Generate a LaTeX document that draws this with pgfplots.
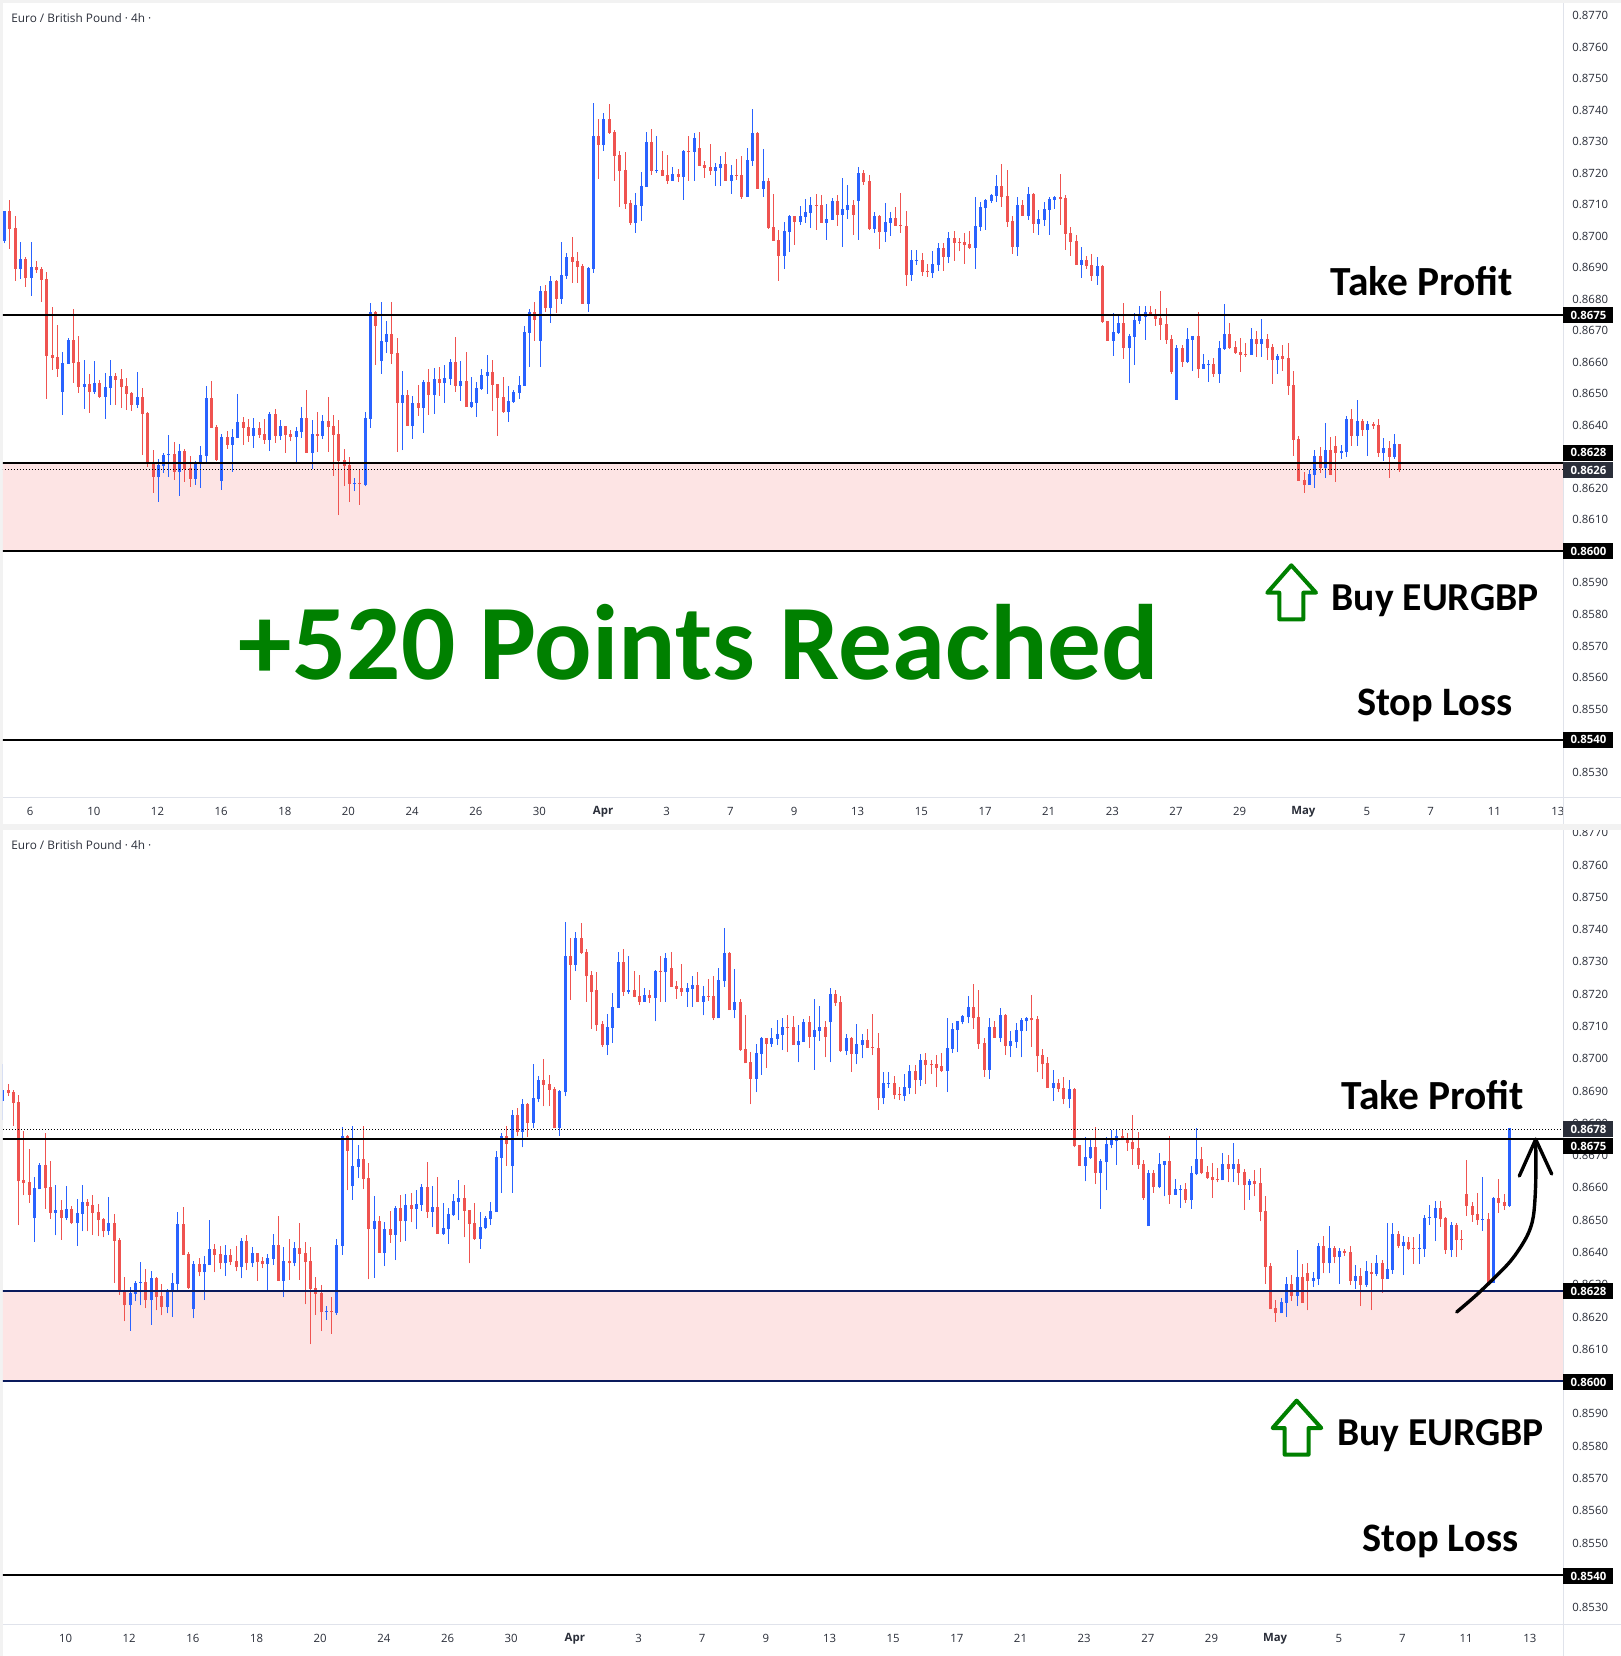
\documentclass[border=0pt]{standalone}
\usepackage{pgfplots}
\usepackage{pgfplotstable}
\usepackage{fontspec}
\pgfplotsset{compat=1.18}
\setmainfont{Open Sans}
\newfontfamily\calib{Carlito}
\definecolor{cup}{HTML}{2962FF}
\definecolor{cdn}{HTML}{EF5350}
\definecolor{zone}{HTML}{FDE4E4}
\definecolor{navy}{HTML}{0A1A5C}
\definecolor{sep}{HTML}{E0E3EB}
\definecolor{txt}{HTML}{2A2E39}
\definecolor{tag2}{HTML}{2A2E39}
\definecolor{gr}{HTML}{008000}
% columns: index, high, body top, body bottom, low (price x 10000)
\pgfplotstableread{
i h t b l
0 8708.0 8708.0 8698.4 8697.6
3 8698.1 8692.7 8689.6 8686.4
5 8698.1 8690.2 8686.7 8681.0
11 8663.2 8659.7 8650.5 8643.2
12 8667.7 8667.0 8659.4 8659.4
15 8660.7 8653.0 8652.1 8645.1
17 8660.3 8653.4 8650.5 8649.9
19 8656.5 8652.1 8648.9 8641.9
20 8660.7 8655.6 8651.8 8646.4
25 8656.9 8648.9 8646.4 8645.4
29 8629.2 8627.3 8623.5 8615.6
30 8631.1 8630.5 8627.0 8624.8
31 8636.9 8630.8 8630.5 8623.5
33 8634.0 8631.8 8625.1 8617.5
36 8628.6 8628.3 8622.9 8621.0
37 8633.4 8630.5 8627.7 8620.0
38 8652.4 8648.6 8630.2 8628.3
41 8637.2 8636.2 8622.3 8619.4
43 8638.8 8636.2 8633.7 8625.1
44 8649.9 8641.0 8635.9 8635.9
47 8642.3 8639.1 8636.5 8632.7
50 8644.2 8643.5 8635.3 8631.8
52 8641.6 8639.7 8636.5 8635.3
55 8639.4 8638.1 8636.2 8628.0
56 8645.7 8642.2 8637.8 8635.9
58 8641.6 8637.1 8631.1 8625.9
60 8643.2 8641.3 8636.5 8635.5
66 8623.2 8621.6 8621.3 8619.0
68 8644.1 8642.2 8621.0 8620.6
69 8678.7 8675.9 8641.9 8639.1
71 8679.0 8666.7 8660.3 8656.2
72 8673.0 8668.9 8666.4 8662.9
75 8657.2 8649.5 8647.0 8632.0
77 8649.2 8647.0 8639.7 8635.6
79 8654.3 8653.7 8645.4 8637.5
81 8658.1 8654.6 8649.5 8643.5
83 8659.1 8654.9 8653.3 8647.0
84 8661.0 8660.0 8654.6 8652.7
86 8660.3 8654.0 8652.4 8647.6
88 8655.3 8647.3 8645.7 8645.4
89 8653.7 8651.8 8647.0 8642.6
90 8657.8 8655.9 8651.4 8651.1
91 8662.2 8656.8 8655.6 8649.9
95 8652.4 8647.6 8644.1 8641.0
96 8651.1 8650.5 8647.3 8647.0
97 8655.6 8652.7 8650.2 8648.3
98 8671.4 8669.5 8652.4 8652.4
99 8676.8 8675.9 8669.2 8658.4
101 8684.1 8682.5 8666.7 8658.4
103 8687.3 8685.7 8677.2 8672.4
105 8698.1 8687.6 8680.0 8678.4
106 8694.6 8693.3 8687.3 8686.4
110 8690.2 8689.9 8678.4 8675.9
111 8742.2 8731.8 8689.5 8688.3
113 8739.0 8737.1 8728.9 8727.0
119 8713.7 8709.8 8704.1 8701.0
120 8720.3 8715.9 8709.5 8704.8
121 8733.0 8729.8 8715.6 8715.6
123 8731.7 8721.0 8720.6 8720.0
126 8721.9 8719.7 8717.5 8717.5
128 8727.3 8727.0 8718.7 8711.4
130 8732.7 8731.1 8726.7 8717.5
134 8723.2 8721.9 8720.6 8715.9
135 8725.4 8722.8 8721.6 8715.9
137 8722.5 8719.4 8717.5 8713.3
140 8727.9 8724.1 8712.4 8712.4
141 8740.3 8732.7 8723.8 8722.2
143 8727.6 8717.5 8714.9 8712.4
147 8704.5 8701.6 8693.7 8689.5
148 8706.7 8706.4 8701.3 8694.9
150 8709.5 8706.4 8704.5 8703.5
151 8711.8 8707.6 8706.0 8704.1
152 8712.4 8709.8 8707.3 8702.5
155 8710.2 8705.4 8704.1 8698.7
156 8712.1 8711.1 8705.1 8705.1
158 8718.4 8708.6 8706.7 8696.5
159 8716.2 8709.8 8708.3 8705.4
161 8721.9 8720.0 8711.1 8698.7
164 8707.6 8706.4 8702.2 8701.0
166 8710.5 8704.5 8701.3 8698.1
167 8707.6 8705.7 8704.1 8700.0
171 8695.6 8692.4 8687.6 8685.7
172 8695.6 8692.4 8692.1 8690.8
175 8695.2 8691.1 8688.3 8686.7
176 8697.8 8696.2 8690.8 8688.9
178 8701.3 8699.4 8693.3 8691.4
183 8712.4 8703.2 8696.2 8689.5
184 8710.8 8709.2 8702.9 8701.6
185 8711.7 8711.4 8708.9 8701.9
186 8713.3 8713.0 8711.1 8710.5
187 8719.4 8715.9 8712.7 8710.8
191 8712.4 8709.8 8696.5 8693.7
193 8715.6 8713.3 8706.4 8705.1
195 8708.3 8705.4 8703.8 8700.3
196 8710.8 8708.6 8705.1 8703.2
197 8712.4 8711.7 8708.3 8700.3
198 8712.7 8712.4 8711.4 8708.6
203 8696.5 8692.4 8690.8 8686.7
206 8693.3 8690.5 8687.3 8684.5
209 8675.6 8669.5 8666.7 8661.9
210 8675.2 8672.4 8669.2 8668.9
212 8668.9 8668.3 8664.5 8653.3
213 8675.6 8673.3 8667.9 8659.1
214 8677.8 8674.6 8673.0 8672.1
215 8677.8 8675.9 8674.3 8667.0
221 8665.4 8664.5 8648.0 8648.0
223 8670.8 8667.3 8660.0 8659.7
224 8668.3 8668.3 8667.0 8657.2
226 8662.6 8659.4 8657.8 8657.8
227 8660.7 8659.4 8659.1 8653.7
229 8666.7 8664.5 8656.2 8653.4
230 8678.4 8668.9 8664.1 8663.8
235 8670.8 8667.3 8662.2 8662.2
237 8673.7 8667.3 8665.7 8661.6
240 8662.6 8661.9 8660.7 8656.2
246 8625.7 8624.5 8621.0 8621.0
247 8632.1 8630.2 8624.2 8620.0
249 8640.7 8632.1 8626.4 8623.2
252 8633.7 8631.8 8631.1 8629.2
253 8642.9 8641.9 8631.5 8629.9
255 8648.0 8641.3 8636.5 8633.4
257 8641.3 8640.3 8638.4 8630.2
260 8635.9 8632.7 8631.1 8628.6
262 8637.2 8634.0 8629.9 8629.2
}\upA
\pgfplotstableread{
i h t b l
1 8711.5 8708.0 8702.2 8695.9
2 8706.4 8702.6 8689.6 8685.7
4 8693.4 8692.7 8686.7 8683.8
6 8692.1 8690.2 8689.2 8688.3
7 8690.2 8689.6 8686.1 8679.1
8 8688.6 8686.4 8661.9 8648.3
9 8677.5 8662.3 8661.3 8657.5
10 8671.8 8661.6 8657.8 8655.3
13 8676.9 8667.0 8659.7 8653.4
14 8668.3 8660.0 8652.1 8650.2
16 8656.2 8653.0 8650.5 8643.8
18 8654.3 8653.4 8648.9 8648.6
21 8656.5 8655.6 8654.3 8646.4
22 8657.8 8654.6 8652.1 8645.4
23 8654.9 8652.4 8649.9 8644.8
24 8650.5 8650.2 8646.4 8644.5
26 8651.8 8648.9 8643.5 8630.5
27 8644.2 8643.8 8627.9 8626.7
28 8632.1 8628.3 8623.5 8618.5
32 8634.6 8630.8 8625.1 8622.6
34 8632.4 8631.8 8626.1 8621.9
35 8630.2 8626.4 8622.9 8620.4
39 8654.0 8648.6 8639.1 8639.1
40 8640.0 8639.4 8628.9 8628.6
42 8638.1 8636.2 8633.7 8632.4
45 8642.6 8641.0 8639.1 8633.7
46 8641.9 8639.4 8636.5 8634.6
48 8641.0 8639.1 8636.9 8635.9
49 8641.9 8637.2 8635.3 8634.0
51 8645.1 8643.5 8636.5 8634.3
53 8639.7 8639.7 8636.9 8631.1
54 8638.4 8637.2 8636.2 8634.9
57 8651.1 8642.2 8631.1 8631.1
59 8644.1 8637.1 8636.5 8631.4
61 8648.9 8641.3 8639.4 8631.4
62 8643.2 8639.7 8636.8 8623.8
63 8641.6 8637.1 8628.6 8611.4
64 8632.4 8628.9 8627.0 8620.6
65 8629.8 8627.3 8621.3 8615.5
67 8625.9 8621.6 8621.3 8614.6
70 8676.2 8675.9 8671.4 8659.1
73 8679.0 8668.9 8662.6 8659.4
74 8667.6 8662.9 8647.0 8631.5
76 8651.1 8649.5 8639.7 8639.7
78 8652.7 8647.0 8645.4 8642.9
80 8657.8 8653.7 8649.5 8643.2
82 8658.4 8654.6 8653.3 8649.2
85 8668.0 8660.0 8652.4 8650.5
87 8663.2 8654.0 8645.7 8645.7
92 8660.6 8656.8 8652.7 8644.5
93 8653.0 8653.0 8648.6 8636.5
94 8655.3 8648.9 8644.1 8643.8
100 8679.0 8675.9 8673.4 8666.7
102 8684.5 8682.5 8677.2 8675.9
104 8686.0 8685.7 8680.0 8675.6
107 8699.7 8693.3 8691.8 8685.1
108 8694.9 8692.1 8690.2 8685.1
109 8691.1 8690.5 8678.4 8678.4
112 8737.1 8731.8 8728.9 8718.1
114 8741.9 8737.1 8732.7 8732.4
115 8733.7 8733.0 8725.4 8717.5
116 8727.0 8725.7 8720.6 8709.2
117 8726.7 8721.0 8710.2 8708.6
118 8711.4 8710.5 8704.1 8703.5
122 8734.0 8729.8 8720.6 8719.4
124 8727.0 8721.0 8719.0 8719.0
125 8725.7 8719.4 8717.5 8716.5
127 8721.3 8719.7 8718.7 8717.1
129 8731.7 8727.0 8726.7 8717.5
131 8733.0 8727.9 8722.2 8722.2
132 8723.8 8722.5 8721.6 8718.4
133 8729.2 8721.9 8720.6 8719.4
136 8726.7 8722.8 8717.5 8717.5
138 8724.5 8719.4 8719.0 8717.8
139 8725.4 8719.4 8712.4 8711.8
142 8733.0 8732.7 8714.9 8714.9
144 8718.4 8717.5 8702.5 8702.2
145 8713.3 8702.9 8698.4 8698.4
146 8701.9 8698.7 8693.7 8685.7
149 8706.4 8706.4 8704.5 8697.1
153 8713.3 8709.8 8709.5 8701.9
154 8713.0 8709.8 8704.1 8704.1
157 8713.0 8711.1 8706.7 8703.2
160 8711.4 8709.8 8706.7 8700.3
162 8721.0 8720.0 8717.1 8716.2
163 8719.4 8717.5 8702.2 8701.9
165 8706.7 8706.4 8701.3 8695.9
168 8709.2 8705.7 8703.2 8703.2
169 8713.6 8703.5 8703.2 8701.0
170 8707.9 8703.2 8687.6 8684.1
173 8694.6 8692.4 8688.6 8687.3
174 8691.1 8688.9 8688.6 8687.0
177 8697.8 8696.2 8693.3 8688.9
179 8701.6 8699.4 8697.8 8692.1
180 8699.4 8698.1 8697.8 8695.2
181 8701.0 8698.1 8697.1 8691.1
182 8701.6 8697.5 8696.2 8695.9
188 8722.9 8715.9 8712.4 8709.2
189 8721.0 8712.7 8704.4 8702.9
190 8706.4 8704.8 8696.5 8694.3
192 8711.4 8709.8 8706.4 8706.4
194 8713.6 8713.3 8703.8 8701.0
199 8719.7 8712.4 8711.7 8703.5
200 8713.0 8712.1 8700.6 8695.6
201 8702.9 8701.0 8698.1 8693.7
202 8700.3 8698.4 8690.8 8690.8
204 8693.7 8692.4 8690.5 8689.5
205 8694.3 8690.8 8687.3 8685.7
207 8690.8 8690.5 8672.7 8672.4
208 8673.0 8673.0 8666.7 8666.7
211 8678.7 8672.4 8664.5 8661.0
216 8677.8 8675.9 8674.6 8674.6
217 8676.8 8674.9 8673.7 8671.4
218 8682.5 8674.0 8671.8 8667.0
219 8677.1 8672.1 8667.0 8665.7
220 8668.6 8667.3 8656.8 8656.2
222 8665.4 8664.5 8660.0 8658.4
225 8675.9 8668.3 8657.8 8654.9
228 8661.3 8659.4 8656.2 8655.3
231 8672.4 8668.9 8664.5 8664.1
232 8666.7 8664.8 8662.9 8662.6
233 8667.6 8663.2 8662.2 8656.8
234 8666.0 8662.6 8662.2 8661.6
236 8669.9 8667.3 8665.7 8661.6
238 8668.9 8667.3 8664.5 8660.7
239 8665.7 8664.8 8660.7 8653.0
241 8665.4 8661.9 8661.0 8657.2
242 8666.0 8661.3 8652.4 8649.5
243 8657.2 8652.7 8635.3 8630.2
244 8636.5 8635.6 8622.2 8622.2
245 8625.1 8622.6 8621.0 8618.4
248 8633.0 8630.2 8626.4 8624.8
250 8636.2 8632.1 8624.2 8624.2
251 8636.5 8633.4 8631.1 8621.9
254 8645.1 8641.9 8636.5 8633.4
256 8641.9 8641.3 8638.4 8636.5
258 8641.0 8640.3 8639.7 8638.8
259 8641.9 8640.0 8631.1 8629.9
261 8634.9 8632.7 8629.9 8623.2
}\downA
% last candle while still open (upper panel)
\pgfplotstableread{
i h t b l
263 8634.0 8634.0 8625.7 8625.1
}\downTop
% later candles (lower panel only)
\pgfplotstableread{
i h t b l
264 8639.1 8636.6 8633.2 8632.4
266 8649.0 8634.7 8631.6 8631.6
267 8649.0 8645.6 8634.4 8633.2
269 8645.0 8643.1 8641.9 8632.9
272 8645.6 8641.2 8640.9 8636.3
273 8651.5 8650.5 8640.9 8638.5
274 8654.6 8650.9 8650.5 8648.4
275 8655.8 8653.6 8650.5 8643.4
278 8649.3 8648.4 8640.6 8638.5
284 8663.2 8650.2 8649.9 8646.5
286 8657.0 8656.7 8630.5 8630.5
289 8678.4 8678.4 8654.3 8654.0
}\upB
\pgfplotstableread{
i h t b l
263 8636.5 8633.7 8633.3 8622.0
265 8637.5 8636.6 8631.6 8627.3
268 8646.5 8645.6 8641.9 8641.2
270 8644.7 8643.1 8640.9 8640.6
271 8644.7 8641.2 8640.9 8636.3
276 8655.8 8653.6 8650.2 8647.8
277 8650.9 8650.5 8640.6 8639.4
279 8649.0 8648.4 8643.7 8638.5
280 8646.8 8644.0 8643.7 8640.6
281 8668.5 8658.0 8654.3 8651.2
282 8655.5 8654.3 8651.5 8649.3
283 8658.3 8651.8 8649.9 8648.4
285 8652.1 8650.2 8630.5 8630.5
287 8662.6 8656.7 8655.2 8652.1
288 8658.0 8655.5 8654.3 8653.0
}\downB
\newcommand{\candles}[2]{%
 \addplot[draw=none, no markers, forget plot,
   error bars/.cd, y dir=plus, y explicit, error mark=none,
   error bar style={draw=#2, line width=0.5pt}]
   table[x=i, y expr=\thisrow{l}/10000, y error plus expr=(\thisrow{h}-\thisrow{l})/10000] {#1};
 \addplot[draw=none, no markers, forget plot,
   error bars/.cd, y dir=plus, y explicit, error mark=none,
   error bar style={draw=#2, line width=1.5pt}]
   table[x=i, y expr=\thisrow{b}/10000, y error plus expr=(\thisrow{t}-\thisrow{b})/10000] {#1};
}
\pgfplotsset{panel/.style={
  scale only axis, width=780pt, clip=true,
  axis y line*=right, axis x line*=bottom,
  axis line style={draw=none},
  major tick length=0pt,
  ytick={0.8530,0.8540,0.8550,0.8560,0.8570,0.8580,0.8590,0.8600,0.8610,0.8620,0.8630,0.8640,0.8650,0.8660,0.8670,0.8680,0.8690,0.8700,0.8710,0.8720,0.8730,0.8740,0.8750,0.8760,0.8770},
  yticklabel style={/pgf/number format/assume math mode=true,/pgf/number format/fixed,/pgf/number format/fixed zerofill,/pgf/number format/precision=4,
     font=\fontsize{5.7}{7}\selectfont, text=txt, anchor=west, inner sep=0pt, xshift=4.5pt, yshift=-0.25pt},
  xtick={4.73,16.73,28.73,40.73,52.73,64.73,76.73,88.73,100.73,112.73,124.73,136.73,148.73,160.73,172.73,184.73,196.73,208.73,220.73,232.73,244.73,256.73,268.73,280.73,292.73},
  xticklabels={6,10,12,16,18,20,24,26,30,\textbf{Apr},3,7,9,13,15,17,21,23,27,29,\textbf{May},5,7,11,13},
  xticklabel style={font=\fontsize{5.7}{7}\selectfont, text=txt, anchor=center, inner sep=0pt, yshift=-7.3pt, xshift=0.3pt},
}}
\newcommand{\tagbox}[3]{\node[fill=#3,text=white,font=\bfseries\fontsize{5.7}{7}\selectfont,minimum width=25pt,minimum height=8pt,inner sep=0pt,anchor=west] at (1563,#1) {#2};}
\newcommand{\ann}[4]{\node[anchor=center,inner sep=0pt,text=#4,font=\calib\bfseries\fontsize{#3}{#3}\selectfont] at #1 {#2};}
\newcommand{\uparrowshape}[2]{\draw[gr,line width=2pt,line join=round,shift={(#1,#2)}]
  (1291.3,565.3)--(1316,592.7)--(1303.3,592.7)--(1303.3,619.3)--(1279.3,619.3)--(1279.3,592.7)--(1267.3,592.7)--cycle;}
\begin{document}
\begin{tikzpicture}[x=0.5pt,y=-0.5pt]
\useasboundingbox (0,0) rectangle (1621,1656);
\fill[white] (0,0) rectangle (1621,1656);
\fill[black!5] (0,0) rectangle (1621,3);
\fill[black!5] (0,0) rectangle (3,1656);
\fill[black!5] (0,824) rectangle (1621,830);

\begin{axis}[panel, name=a1, at={(1.5pt,-1.5pt)}, anchor=north west, height=397pt,
  xmin=-0.283, xmax=293.8, ymin=0.85219, ymax=0.87739]
\addplot[draw=none, fill=zone, forget plot] coordinates {(-5,0.8600)(300,0.8600)(300,0.8628)(-5,0.8628)} -- cycle;
\candles{\downA}{cdn}
\candles{\upA}{cup}
\candles{\downTop}{cdn}
\addplot[black, line width=0.5pt, densely dotted, forget plot] coordinates {(-5,0.8626)(300,0.8626)};
\addplot[black, line width=1pt, forget plot] coordinates {(-5,0.8675)(300,0.8675)};
\addplot[black, line width=1pt, forget plot] coordinates {(-5,0.8628)(300,0.8628)};
\addplot[black, line width=1pt, forget plot] coordinates {(-5,0.8600)(300,0.8600)};
\addplot[black, line width=1pt, forget plot] coordinates {(-5,0.8540)(300,0.8540)};
\end{axis}

\begin{axis}[panel, name=a2, at={(1.5pt,-415pt)}, anchor=north west, height=397pt,
  xmin=5.05, xmax=299.1, ymin=0.852475, ymax=0.87707]
\addplot[draw=none, fill=zone, forget plot] coordinates {(0,0.8600)(305,0.8600)(305,0.8628)(0,0.8628)} -- cycle;
\candles{\downA}{cdn}
\candles{\upA}{cup}
\candles{\downB}{cdn}
\candles{\upB}{cup}
\addplot[black, line width=0.5pt, densely dotted, forget plot] coordinates {(0,0.8678)(305,0.8678)};
\addplot[black, line width=1pt, forget plot] coordinates {(0,0.8675)(305,0.8675)};
\addplot[navy, line width=1pt, forget plot] coordinates {(0,0.8628)(305,0.8628)};
\addplot[navy, line width=0.8pt, forget plot] coordinates {(0,0.8600)(305,0.8600)};
\addplot[black, line width=1pt, forget plot] coordinates {(0,0.8540)(305,0.8540)};
\end{axis}

% panes
\fill[black!5] (0,824) rectangle (1621,830);
\fill[white] (1563.5,797.5) rectangle (1621,823.5);
\fill[white] (1563.5,1624.5) rectangle (1621,1656);
\draw[sep,line width=0.5pt] (1563,3)--(1563,824);
\draw[sep,line width=0.5pt] (1563,830)--(1563,1656);
\draw[sep,line width=0.5pt] (3,797)--(1621,797);
\draw[sep,line width=0.5pt] (3,1624)--(1621,1624);

% titles
\node[anchor=west,inner sep=0pt,text=txt,font=\fontsize{5.9}{7}\selectfont] at (11,18) {Euro / British Pound · 4h ·};
\node[anchor=west,inner sep=0pt,text=txt,font=\fontsize{5.9}{7}\selectfont] at (11,845) {Euro / British Pound · 4h ·};

% price tags
\tagbox{315}{0.8675}{black}
\tagbox{452.5}{0.8628}{black}
\tagbox{470}{0.8626}{tag2}
\tagbox{551}{0.8600}{black}
\tagbox{739.5}{0.8540}{black}
\tagbox{1129}{0.8678}{tag2}
\tagbox{1146}{0.8675}{black}
\tagbox{1291}{0.8628}{black}
\tagbox{1382}{0.8600}{black}
\tagbox{1576}{0.8540}{black}

% annotations
\ann{(1422,281)}{Take Profit}{20.7}{black}
\ann{(1435,601)}{Buy EURGBP}{19.8}{black}
\ann{(1435,705)}{Stop Loss}{20.2}{black}
\ann{(699,642)}{+520 Points Reached}{53.6}{gr}
\ann{(1433,1095)}{Take Profit}{20.7}{black}
\ann{(1440.5,1436)}{Buy EURGBP}{19.8}{black}
\ann{(1440.5,1541.5)}{Stop Loss}{20.2}{black}
\uparrowshape{0}{0}
\uparrowshape{5.3}{835.3}
\draw[black,line width=1.7pt,line cap=round,line join=round] plot[smooth,tension=0.5] coordinates {(1456.7,1312)(1480,1291.7)(1510,1261.7)(1526.7,1236.7)(1533.3,1216.7)(1535.7,1183.3)(1535.7,1139.3)};
\draw[black,line width=1.7pt,line cap=round,line join=round] (1519.3,1176)--(1535.7,1139.3)--(1551.7,1174);
\end{tikzpicture}
\end{document}
